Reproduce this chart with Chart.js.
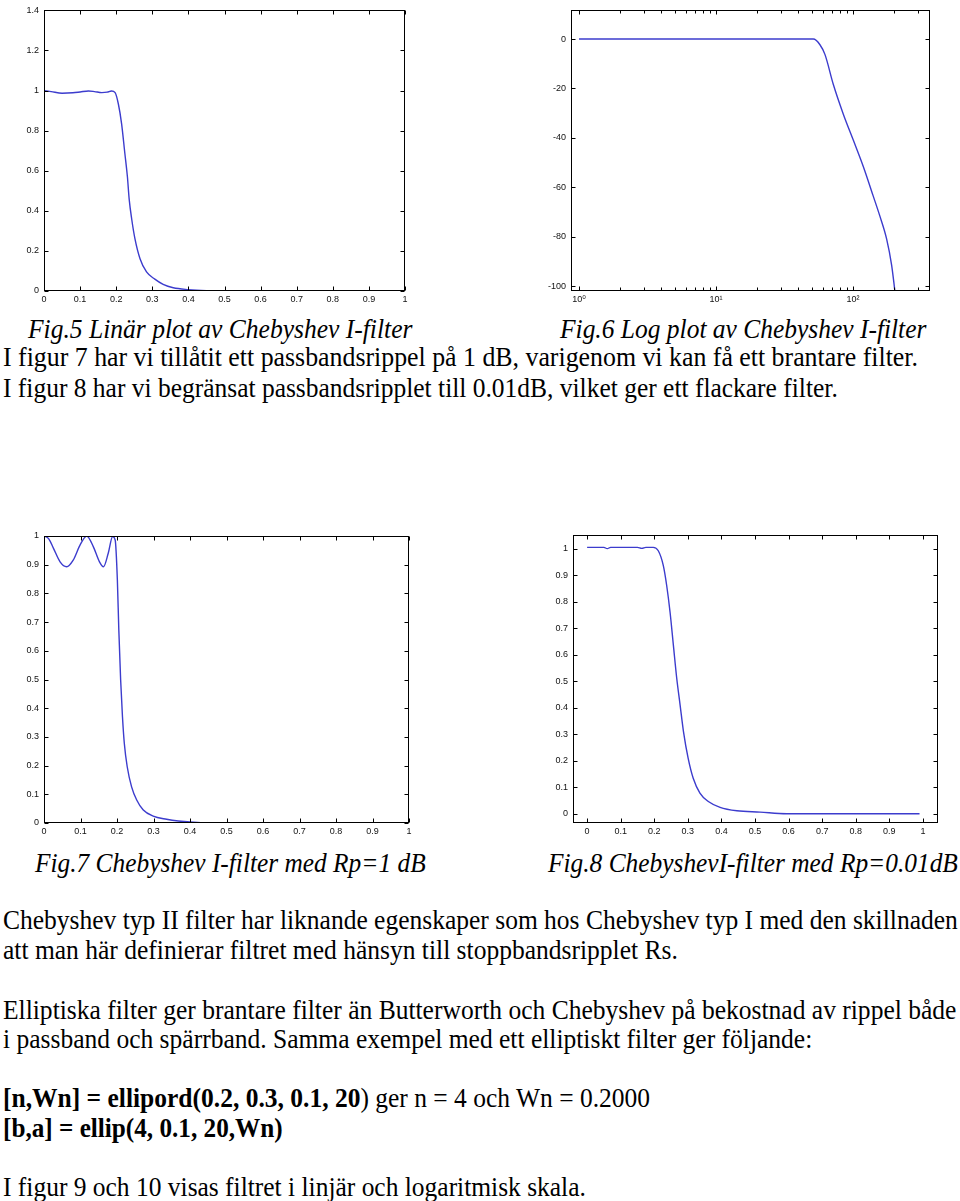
<!DOCTYPE html>
<html><head><meta charset="utf-8">
<script src="https://cdn.jsdelivr.net/npm/chart.js@4.4.0/dist/chart.umd.min.js"></script>
<style>
html,body{margin:0;padding:0;background:#fff;width:960px;height:1201px;overflow:hidden;position:relative}
.cv{position:absolute}
.t{position:absolute;white-space:nowrap;font-family:"Liberation Serif","Times New Roman",serif;font-size:27px;line-height:27px;color:#000;transform-origin:0 50%}
.i{font-style:italic}
</style></head><body>
<canvas id="c5" class="cv" width="420" height="310" style="left:0;top:0"></canvas>
<canvas id="c6" class="cv" width="420" height="310" style="left:540px;top:0"></canvas>
<canvas id="c7" class="cv" width="420" height="320" style="left:0;top:525px"></canvas>
<canvas id="c8" class="cv" width="420" height="320" style="left:540px;top:525px"></canvas>

<div class="t i" data-w="384" style="left:28px;top:316px">Fig.5 Linär plot av Chebyshev I-filter</div>
<div class="t i" data-w="366" style="left:560px;top:316px">Fig.6 Log plot av Chebyshev I-filter</div>
<div class="t" data-w="915" style="left:3px;top:344px">I figur 7 har vi tillåtit ett passbandsrippel på 1 dB, varigenom vi kan få ett brantare filter.</div>
<div class="t" data-w="835" style="left:3px;top:375px">I figur 8 har vi begränsat passbandsripplet till 0.01dB, vilket ger ett flackare filter.</div>
<div class="t i" data-w="391" style="left:35px;top:850px">Fig.7 Chebyshev I-filter med Rp=1 dB</div>
<div class="t i" data-w="410" style="left:548px;top:850px">Fig.8 ChebyshevI-filter med Rp=0.01dB</div>
<div class="t" data-w="955" style="left:3px;top:907px">Chebyshev typ II filter har liknande egenskaper som hos Chebyshev typ I med den skillnaden</div>
<div class="t" data-w="675" style="left:3px;top:937px">att man här definierar filtret med hänsyn till stoppbandsripplet Rs.</div>
<div class="t" data-w="953" style="left:3px;top:997px">Elliptiska filter ger brantare filter än Butterworth och Chebyshev på bekostnad av rippel både</div>
<div class="t" data-w="809" style="left:3px;top:1026px">i passband och spärrband. Samma exempel med ett elliptiskt filter ger följande:</div>
<div class="t" data-w="647" style="left:3px;top:1085px"><b>[n,Wn] = ellipord(0.2, 0.3, 0.1, 20</b>) ger n = 4 och Wn = 0.2000</div>
<div class="t" data-w="280" style="left:3px;top:1115px"><b>[b,a] = ellip(4, 0.1, 20,Wn)</b></div>
<div class="t" data-w="583" style="left:3px;top:1174px">I figur 9 och 10 visas filtret i linjär och logaritmisk skala.</div>

<script>
// ---- Data ----
const fig5X = [0,0.02,0.05,0.08,0.1,0.123,0.14,0.16,0.175,0.187,0.197,0.206,0.215,0.224,0.231,0.236,0.243,0.252,0.266,0.284,0.307,0.33,0.358,0.4,0.45,0.5,0.6,0.7,0.8,0.9,1.0];
const fig5Y = [1.0,0.995,0.987,0.989,0.993,0.998,0.995,0.99,0.992,0.998,0.99,0.933,0.834,0.686,0.571,0.457,0.358,0.26,0.161,0.095,0.059,0.033,0.016,0.007,0.002,0.0005,0,0,0,0,0];

const fig6Freq = [1,2,5,10,20,30,40,51.3,57.4,62.5,71.8,84.9,100.5,118.9,140.6,157,176,191.6,202.6];
const fig6Db   = [0,0,0,0,0,0,0,0,-2.3,-6.3,-18.3,-30.3,-40.9,-51.6,-63.6,-71.6,-80.9,-91.6,-102.3];

const fig7X = [0,0.013,0.026,0.044,0.062,0.08,0.099,0.117,0.135,0.152,0.163,0.176,0.188,0.195,0.201,0.205,0.21,0.215,0.22,0.228,0.24,0.254,0.272,0.299,0.336,0.368,0.43,0.5,0.6,0.7,0.8,0.9,1.0];
const fig7Y = [1.0,0.99,0.957,0.91,0.893,0.916,0.969,1.0,0.963,0.91,0.893,0.94,0.998,0.986,0.847,0.672,0.498,0.37,0.278,0.196,0.126,0.08,0.045,0.024,0.013,0.007,0.001,0,0,0,0,0,0];

const fig8X = [0,0.05,0.06,0.07,0.1,0.15,0.163,0.175,0.197,0.212,0.227,0.237,0.247,0.257,0.267,0.277,0.287,0.301,0.316,0.336,0.361,0.396,0.446,0.515,0.594,0.7,0.8,0.9,0.99];
const fig8Y = [1.005,1.005,1.0,1.005,1.005,1.005,1.001,1.005,1.005,0.992,0.936,0.861,0.761,0.635,0.51,0.41,0.31,0.209,0.134,0.078,0.046,0.024,0.011,0.006,0.0,0,0,0,0];

// ---- Tick values ----
const linTicks01 = [0,0.1,0.2,0.3,0.4,0.5,0.6,0.7,0.8,0.9,1];
const fig5YTicks = [0,0.2,0.4,0.6,0.8,1,1.2,1.4];
const fig6YTicks = [-100,-80,-60,-40,-20,0];
const fig6XMajor = [1,10,100];
const fig6XMinor = [2,3,4,5,6,7,8,9,20,30,40,50,60,70,80,90,200,300];
const fig6XLabels = {1:'10\u2070',10:'10\u00B9',100:'10\u00B2'};

// ---- fit text lines to measured widths ----
document.querySelectorAll('.t').forEach(el=>{
  const w = el.scrollWidth, target = +el.dataset.w;
  el.style.transform = 'scaleX(' + (target / w) + ')';
});

const LINE = 'rgb(60,60,205)';
const tickFont = {family:'"Liberation Sans", Arial, "DejaVu Sans", sans-serif', size:9};
const fmt = v => String(+(+v).toFixed(2));

const boxTicks = {
  id:'boxTicks',
  afterDraw(chart, args, opts){
    const {ctx, chartArea:a} = chart;
    const xs = chart.scales.x, ys = chart.scales.y;
    const L = Math.round(a.left)+0.5, R = Math.round(a.right)-0.5, T = Math.round(a.top)+0.5, B = Math.round(a.bottom)-0.5;
    ctx.save();
    ctx.strokeStyle = '#000'; ctx.lineWidth = 1;
    ctx.strokeRect(L, T, R-L, B-T);
    ctx.beginPath();
    xs.ticks.forEach(t=>{
      const p = Math.round(xs.getPixelForValue(t.value))+0.5;
      const len = (opts.xMajor && !opts.xMajor.includes(t.value)) ? 3 : 4;
      ctx.moveTo(p,B); ctx.lineTo(p,B-len);
      ctx.moveTo(p,T); ctx.lineTo(p,T+len);
    });
    ys.ticks.forEach(t=>{
      const p = Math.round(ys.getPixelForValue(t.value))+0.5;
      ctx.moveTo(L,p); ctx.lineTo(L+4,p);
      ctx.moveTo(R,p); ctx.lineTo(R-4,p);
    });
    ctx.stroke();
    ctx.restore();
  }
};

function makeChart(id, cfg){
  const pts = cfg.xs.map((x,i)=>({x:x, y:cfg.ys[i]}));
  return new Chart(document.getElementById(id), {
    type:'line',
    data:{datasets:[{data:pts, borderColor:LINE, borderWidth:1.4, pointRadius:0, fill:false,
      cubicInterpolationMode:'monotone'}]},
    plugins:[boxTicks],
    options:{
      responsive:false, animation:false, events:[],
      layout:{padding:cfg.pad},
      plugins:{legend:{display:false}, tooltip:{enabled:false}, boxTicks:{xMajor:cfg.xMajor}},
      scales:{
        x:{type:cfg.xType||'linear', min:cfg.xMin, max:cfg.xMax,
          grid:{display:false, drawTicks:false}, border:{display:false},
          afterBuildTicks:s=>{ s.ticks = cfg.xTicks.map(v=>({value:v})); },
          afterFit:s=>{ s.height = cfg.xH; },
          ticks:{autoSkip:false, maxRotation:0, padding:3, font:tickFont, color:'#111',
            callback:cfg.xLabel || fmt}},
        y:{type:'linear', min:cfg.yMin, max:cfg.yMax,
          grid:{display:false, drawTicks:false}, border:{display:false},
          afterBuildTicks:s=>{ s.ticks = cfg.yTicks.map(v=>({value:v})); },
          afterFit:s=>{ s.width = cfg.yW; },
          ticks:{autoSkip:false, padding:5, font:tickFont, color:'#111', callback:fmt}}
      }
    }
  });
}

makeChart('c5', {xs:fig5X, ys:fig5Y, xMin:0, xMax:1, yMin:0, yMax:1.4,
  xTicks:linTicks01, yTicks:fig5YTicks, pad:{left:0,top:7,right:15,bottom:0}, yW:44, xH:19});

makeChart('c6', {xs:fig6Freq, ys:fig6Db, xType:'logarithmic', xMin:0.874, xMax:365, yMin:-102, yMax:11.6,
  xTicks:fig6XMajor.concat(fig6XMinor).sort((a,b)=>a-b), xMajor:fig6XMajor, yTicks:fig6YTicks,
  xLabel:v=>fig6XLabels[v]||'', pad:{left:0,top:7,right:30,bottom:0}, yW:31, xH:19});

makeChart('c7', {xs:fig7X, ys:fig7Y, xMin:0, xMax:1, yMin:0, yMax:1,
  xTicks:linTicks01, yTicks:linTicks01, pad:{left:0,top:11,right:11,bottom:0}, yW:44, xH:22});

makeChart('c8', {xs:fig8X, ys:fig8Y, xMin:-0.042, xMax:1.045, yMin:-0.035, yMax:1.05,
  xTicks:linTicks01, yTicks:linTicks01, pad:{left:0,top:10,right:22,bottom:0}, yW:33, xH:22});
</script>
</body></html>
